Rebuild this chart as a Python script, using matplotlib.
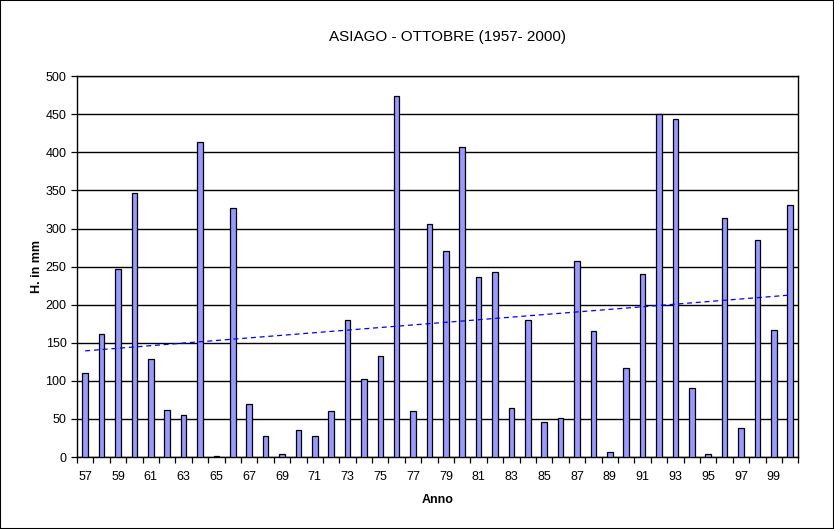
import numpy as np
import matplotlib.pyplot as plt

plt.rcParams['font.family'] = ['Liberation Sans', 'DejaVu Sans']

# Data: October precipitation at Asiago (mm)
anni = list(range(1957, 2001))
pioggia = [111, 162, 247, 346, 129, 62, 55, 413, 2, 327,
           70, 27, 4, 35, 27, 61, 180, 103, 133, 474,
           61, 306, 270, 407, 237, 243, 65, 180, 46, 51,
           258, 166, 6, 117, 240, 450, 444, 91, 4, 314,
           38, 285, 167, 331]
etichette = [f"{a % 100:02d}" for a in anni]

fig = plt.figure(figsize=(8.34, 5.29), dpi=100)
fig.patches.append(plt.Rectangle((0, 0), 1, 1, transform=fig.transFigure,
                                 fill=False, edgecolor='black', linewidth=1.5))
ax = fig.add_axes([0.0923, 0.136, 0.865, 0.72])

x = np.arange(len(anni))
ax.bar(x, pioggia, width=0.34, color='#9999FF', edgecolor='black',
       linewidth=0.9, zorder=3)

# linear trend line
coef = np.polyfit(x, pioggia, 1)
ax.plot(x, np.polyval(coef, x), color='#0000FF', linestyle=(0, (4, 3)),
        linewidth=0.9, zorder=4)

ax.set_xlim(-0.5, len(anni) - 0.5)
ax.set_ylim(0, 500)
ax.set_yticks(range(0, 501, 50))
ax.yaxis.grid(True, color='black', linewidth=1)
ax.set_axisbelow(True)

ax.set_xticks(x[::2])
ax.set_xticklabels(etichette[::2])
ax.set_xticks(np.arange(-0.5, len(anni), 1), minor=True)
ax.tick_params(axis='x', which='major', length=0, pad=10, labelsize=9)
ax.tick_params(axis='x', which='minor', length=4, direction='out', width=0.9)
ax.tick_params(axis='y', length=4, direction='out', labelsize=9, width=0.9)

for s in ax.spines.values():
    s.set_linewidth(1)
    s.set_color('black')

fig.text(0.537, 0.93, "ASIAGO - OTTOBRE (1957- 2000)", fontsize=11,
         ha='center', va='center')
ax.set_xlabel("Anno", fontsize=9, fontweight='bold', labelpad=8)
ax.set_ylabel("H. in mm", fontsize=9, fontweight='bold', labelpad=2)

fig.savefig("out.png", dpi=100)
